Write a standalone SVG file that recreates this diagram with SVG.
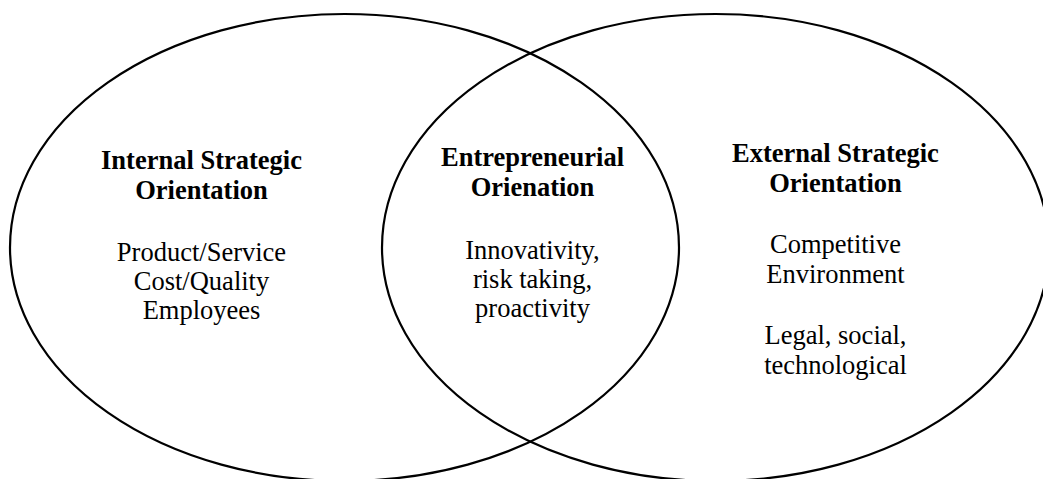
<svg xmlns="http://www.w3.org/2000/svg" width="1043" height="479" viewBox="0 0 1043 479">
<style>
.ring{fill:none;stroke:#000;stroke-width:2.2}
text{font-family:"Liberation Serif","Times New Roman",serif;font-size:26.5px;fill:#000;text-anchor:middle}
.h{font-weight:bold}
</style>
<rect width="1043" height="479" fill="#fff"/>
<g id="connectors"/>
<g id="internal">
<ellipse class="ring" cx="344.5" cy="247.5" rx="334.5" ry="233.5"/>
<text class="h" x="201.5" y="169">Internal Strategic</text>
<text class="h" x="201.5" y="199">Orientation</text>
<text x="201.5" y="261">Product/Service</text>
<text x="201.5" y="290">Cost/Quality</text>
<text x="201.5" y="319">Employees</text>
</g>
<g id="external">
<ellipse class="ring" cx="715.5" cy="247.5" rx="333.5" ry="233.5"/>
<text class="h" x="835.5" y="162">External Strategic</text>
<text class="h" x="835.5" y="192">Orientation</text>
<text x="835.5" y="253">Competitive</text>
<text x="835.5" y="283">Environment</text>
<text x="835.5" y="344">Legal, social,</text>
<text x="835.5" y="374">technological</text>
</g>
<g id="entrepreneurial">
<text class="h" x="532.5" y="166">Entrepreneurial</text>
<text class="h" x="532.5" y="196">Orienation</text>
<text x="532.5" y="259">Innovativity,</text>
<text x="532.5" y="288">risk taking,</text>
<text x="532.5" y="317">proactivity</text>
</g>
</svg>
